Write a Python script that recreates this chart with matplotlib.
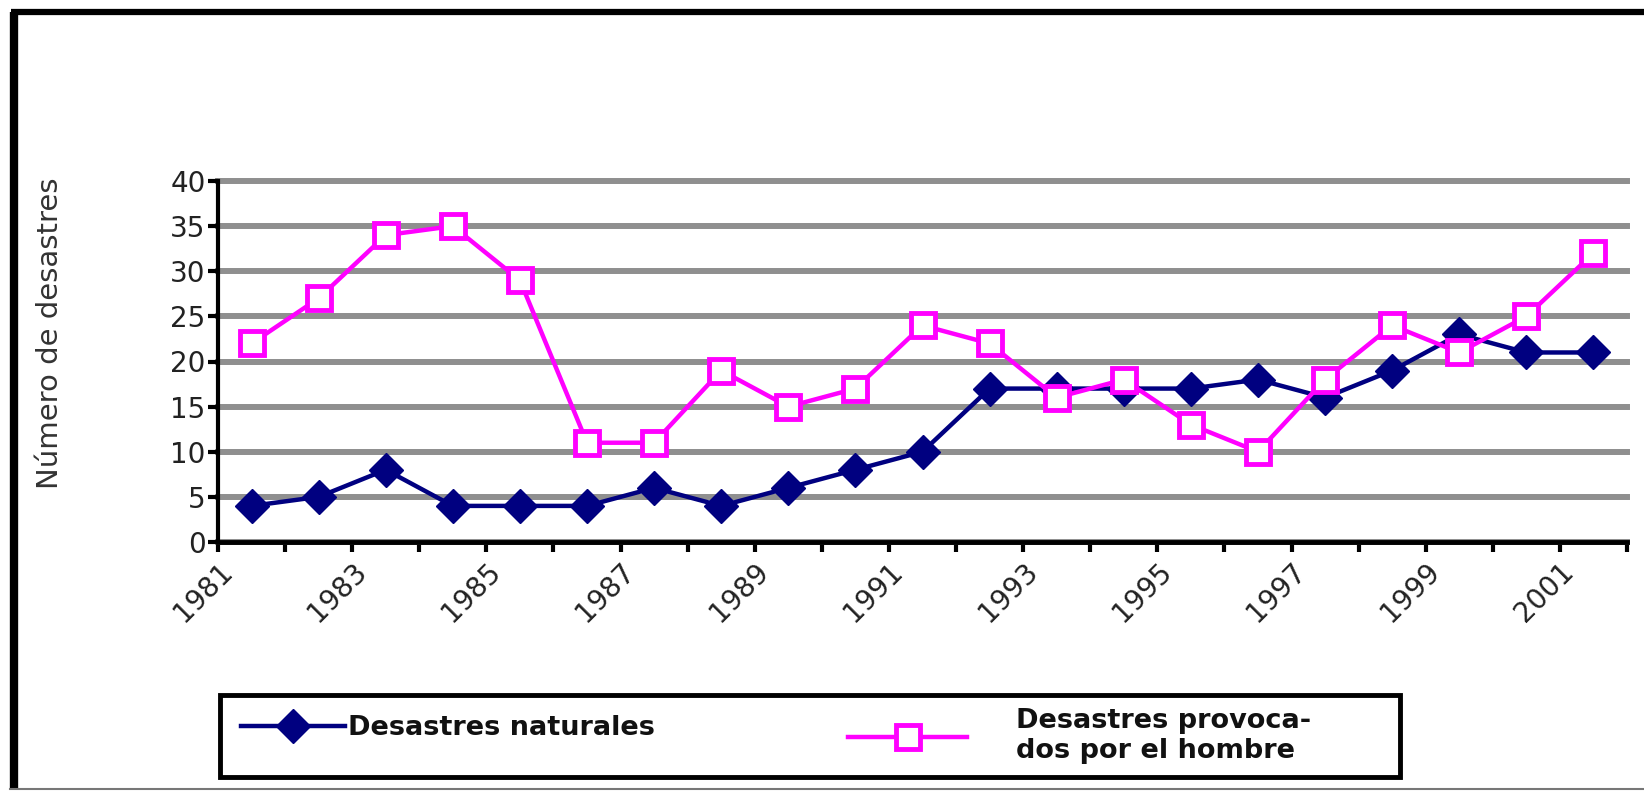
import matplotlib.pyplot as plt
from matplotlib.lines import Line2D
from matplotlib.patches import Rectangle

plt.rcParams['font.family'] = ['DejaVu Sans']

# data
years = list(range(1981, 2002))
naturales = [4, 5, 8, 4, 4, 4, 6, 4, 6, 8, 10, 17, 17, 17, 17, 18, 16, 19, 23, 21, 21]
hombre = [22, 27, 34, 35, 29, 11, 11, 19, 15, 17, 24, 22, 16, 18, 13, 10, 18, 24, 21, 25, 32]
label_nat = "Desastres naturales"
label_hom = "Desastres provoca-\ndos por el hombre"
y_label = "Número de desastres"
y_ticks = [0, 5, 10, 15, 20, 25, 30, 35, 40]

W, H = 1644, 791
fig = plt.figure(figsize=(W / 100, H / 100), dpi=100)
fig.patch.set_facecolor('white')
ax = fig.add_axes([218 / W, 249 / H, 1409 / W, 361 / H])

# category axis: points sit between tick marks
xs = [i + 0.5 for i in range(len(years))]
l1, = ax.plot(xs, naturales, color='#000080', lw=3.2, marker='D', ms=17.5,
              mfc='#000080', mec='#000080', label=label_nat, zorder=3)
l2, = ax.plot(xs, hombre, color='#ff00ff', lw=3.2, marker='s', ms=17,
              mfc='white', mec='#ff00ff', mew=3.5, label=label_hom, zorder=4)

ax.set_xlim(0, len(years))
ax.set_ylim(0, 40)
ax.set_yticks(y_ticks)
ax.set_yticklabels([str(v) for v in y_ticks], fontsize=20, color='#222222')
ax.set_xticks(range(len(years) + 1))
xlabels = [str(years[0] + k) if (k % 2 == 0 and k < len(years)) else '' for k in range(len(years) + 1)]
ax.set_xticklabels(xlabels, fontsize=20, color='#222222', rotation=45,
                   ha='right', va='top', rotation_mode='anchor')

ax.yaxis.grid(True, color='#8f8f8f', lw=4.3)
for gl in ax.get_ygridlines():
    gl.set_clip_on(False)
ax.set_axisbelow(True)

for s in ['top', 'right']:
    ax.spines[s].set_visible(False)
ax.spines['left'].set_linewidth(3)
ax.spines['bottom'].set_linewidth(3.5)
ax.tick_params(axis='y', length=7, width=3, pad=2)
ax.tick_params(axis='x', length=7, width=3, pad=4)

fig.text(50 / W, 1 - 333 / H, y_label, rotation=90, ha='center', va='center',
         fontsize=21, color='#333333')

# legend box
fig.add_artist(Rectangle((220 / W, 1 - 777 / H), 1180 / W, 82 / H,
                         transform=fig.transFigure, fill=False, ec='black', lw=3.5))
leg1 = fig.legend(handles=[l1], loc='center left', bbox_to_anchor=(241 / W, 1 - 728 / H),
                  frameon=False, borderpad=0, borderaxespad=0, handlelength=3.85,
                  handletextpad=0.1, prop={'size': 19.5, 'weight': 'bold'})
leg2 = fig.legend(handles=[l2], loc='center left', bbox_to_anchor=(848 / W, 1 - 736 / H),
                  frameon=False, borderpad=0, borderaxespad=0, handlelength=4.4,
                  handletextpad=1.8, prop={'size': 19.5, 'weight': 'bold'})
for t in leg1.get_texts() + leg2.get_texts():
    t.set_color('#111111')
for t in leg2.get_texts():
    t.set_linespacing(1.15)

# outer frame
fig.add_artist(Line2D([14 / W, 14 / W], [1 - 12 / H, 1 - 790 / H], transform=fig.transFigure,
                      color='black', lw=6, solid_capstyle='butt'))
fig.add_artist(Line2D([11 / W, 1], [1 - 12 / H, 1 - 12 / H], transform=fig.transFigure,
                      color='black', lw=4.5, solid_capstyle='butt'))
fig.add_artist(Line2D([10 / W, 1], [1 - 789 / H, 1 - 789 / H], transform=fig.transFigure,
                      color='#777777', lw=1.5))

fig.savefig('out.png', dpi=100)
